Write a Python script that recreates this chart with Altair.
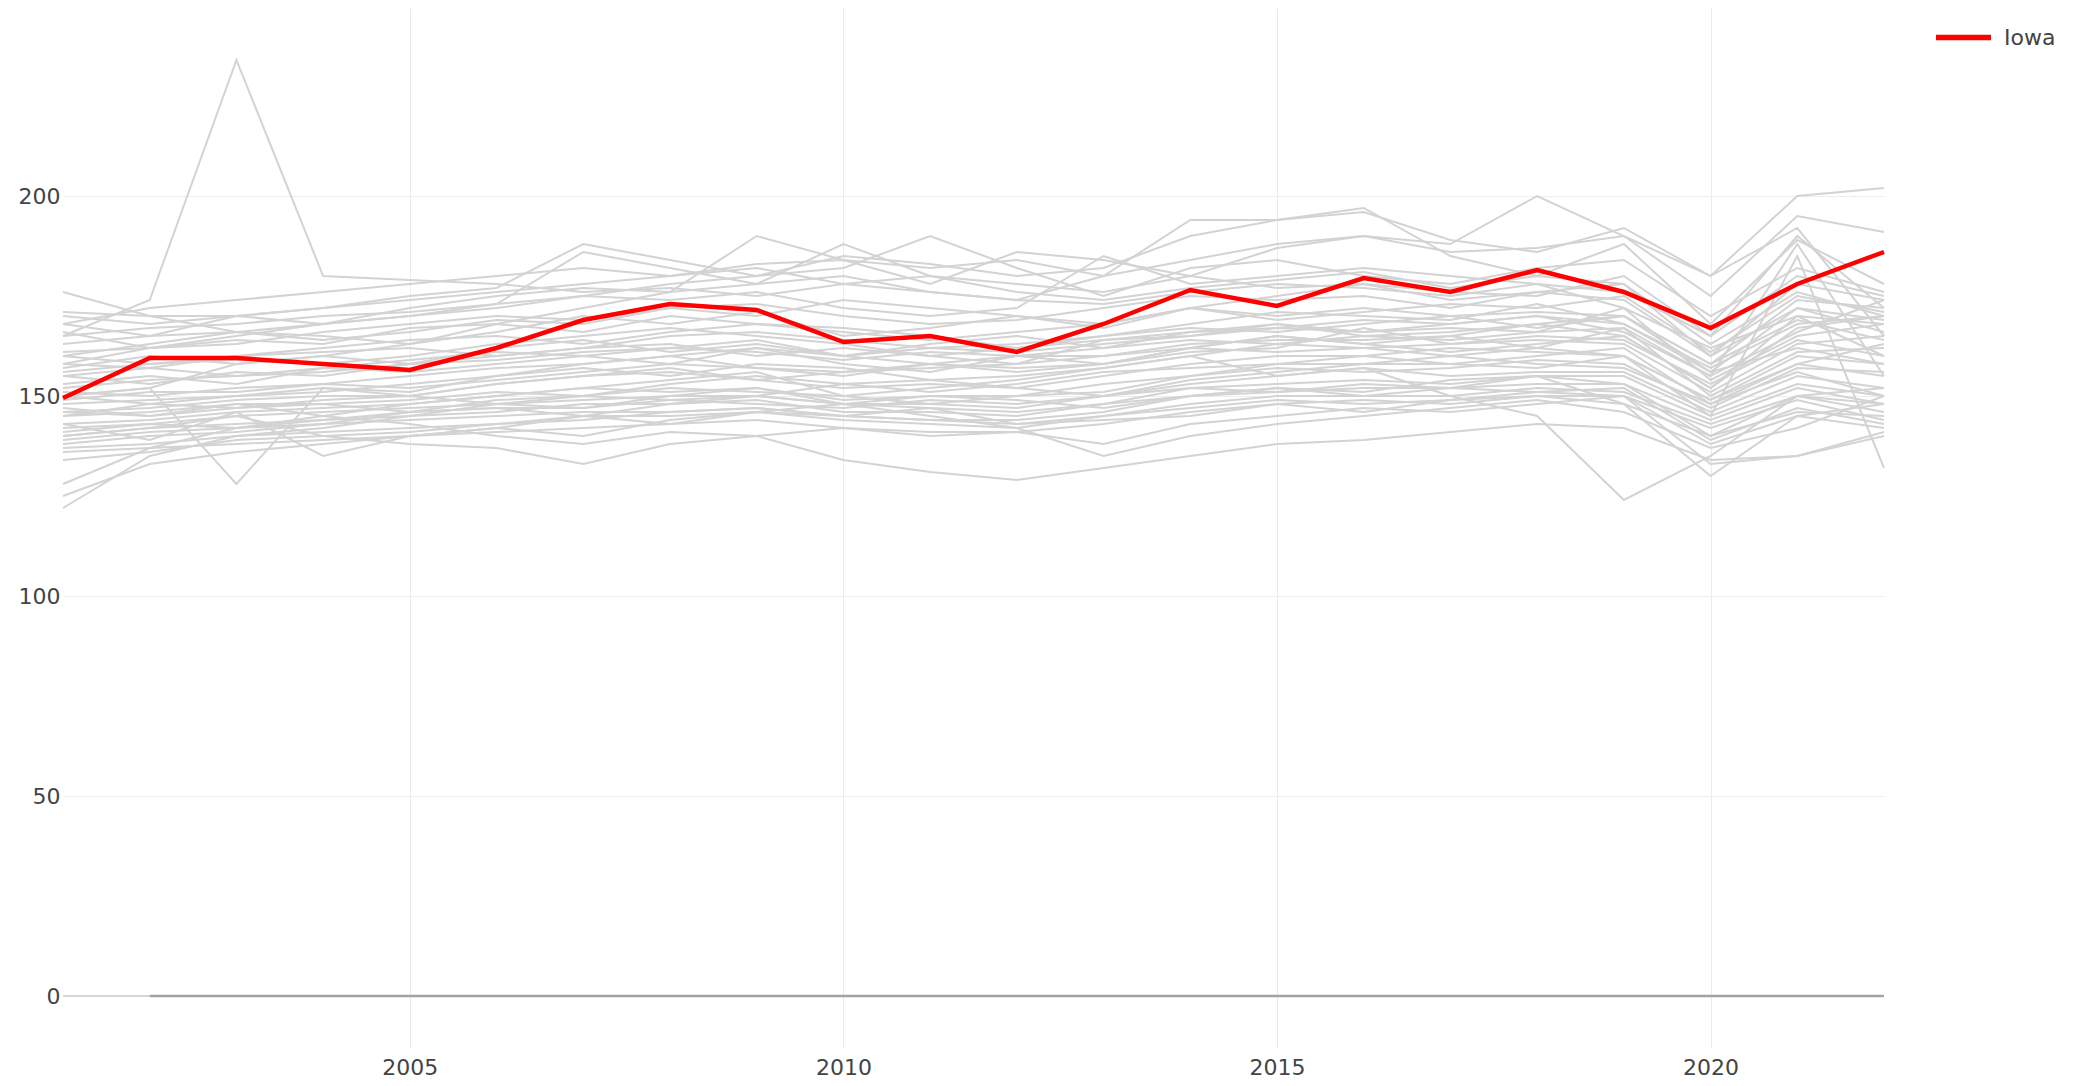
import altair as alt
import pandas as pd

years = list(range(2001, 2023))

iowa = [149.5, 159.5, 159.5, 158, 156.5, 162, 169, 173, 171.5, 163.5, 165, 161,
        168, 176.5, 172.5, 179.5, 176, 181.5, 176, 167, 178, 186]

gray_series = {
    "L1": [165, 174, 234, 180, 179, 178, 176, 177, 175, 178, 176, 174, 173, 176, 178, 177, 175, 178, 172, 162, 170, 168],
    "L2": [160, 163, 166, 168, 170, 172, 175, 178, 180, 185, 183, 180, 182, 190, 194, 196, 189, 186, 192, 180, 200, 202],
    "L3": [170, 168, 170, 172, 174, 176, 178, 180, 182, 178, 180, 178, 176, 180, 187, 190, 188, 200, 190, 175, 195, 191],
    "L4": [158, 162, 165, 168, 170, 173, 186, 182, 178, 180, 176, 174, 180, 194, 194, 197, 185, 180, 188, 168, 189, 178],
    "L5": [168, 165, 170, 172, 175, 177, 188, 184, 180, 182, 190, 182, 175, 182, 184, 180, 178, 182, 184, 170, 182, 176],
    "L6": [150, 152, 158, 160, 163, 168, 172, 176, 190, 184, 178, 186, 184, 180, 177, 178, 176, 175, 180, 165, 190, 172],
    "L7": [176, 170, 166, 164, 166, 169, 168, 172, 170, 174, 172, 170, 168, 172, 175, 178, 174, 176, 178, 160, 178, 174],
    "L8": [171, 170, 170, 168, 172, 175, 177, 176, 178, 188, 180, 176, 174, 177, 179, 181, 177, 180, 178, 163, 176, 170],
    "L9": [166, 162, 163, 166, 168, 170, 169, 172, 173, 170, 168, 169, 172, 175, 174, 175, 172, 176, 174, 160, 172, 166],
    "L10": [163, 165, 166, 165, 163, 166, 170, 168, 171, 165, 167, 170, 167, 172, 170, 172, 170, 171, 170, 158, 174, 172],
    "L11": [160, 158, 160, 162, 164, 165, 163, 166, 168, 167, 165, 162, 165, 168, 171, 170, 169, 173, 168, 157, 168, 170],
    "L12": [157, 160, 158, 160, 158, 162, 164, 161, 163, 160, 163, 165, 162, 166, 167, 169, 168, 170, 166, 155, 166, 174],
    "L13": [155, 153, 156, 155, 158, 160, 162, 163, 160, 162, 160, 158, 164, 165, 168, 166, 167, 166, 172, 154, 165, 168],
    "L14": [153, 155, 153, 157, 156, 158, 160, 158, 162, 158, 156, 160, 160, 163, 164, 164, 165, 168, 165, 152, 170, 160],
    "L15": [151, 150, 152, 153, 155, 157, 158, 160, 157, 155, 158, 157, 158, 161, 162, 167, 163, 164, 163, 151, 163, 165],
    "L16": [148, 149, 150, 151, 153, 155, 157, 155, 158, 157, 154, 155, 157, 160, 163, 162, 160, 162, 167, 150, 161, 162],
    "L17": [146, 147, 149, 150, 150, 153, 155, 156, 154, 152, 153, 152, 155, 158, 160, 160, 162, 161, 160, 149, 160, 158],
    "L18": [145, 146, 148, 148, 149, 151, 150, 153, 155, 153, 151, 153, 156, 157, 158, 158, 158, 160, 162, 148, 158, 163],
    "L19": [143, 144, 146, 147, 148, 150, 152, 151, 152, 149, 150, 150, 151, 155, 157, 156, 157, 159, 158, 147, 157, 156],
    "L20": [141, 143, 145, 146, 147, 148, 149, 150, 150, 148, 148, 147, 150, 153, 155, 157, 155, 156, 156, 146, 155, 152],
    "L21": [140, 142, 143, 144, 145, 146, 148, 148, 149, 146, 146, 145, 148, 152, 153, 154, 153, 155, 155, 145, 153, 150],
    "L22": [138, 140, 141, 143, 144, 145, 146, 146, 147, 145, 144, 144, 146, 150, 151, 152, 152, 153, 153, 144, 152, 148],
    "L23": [137, 138, 140, 141, 142, 143, 145, 145, 146, 144, 143, 142, 145, 148, 150, 150, 150, 152, 151, 143, 150, 146],
    "L24": [136, 137, 138, 139, 140, 141, 142, 143, 144, 142, 141, 141, 143, 146, 148, 149, 148, 150, 150, 142, 149, 144],
    "L25": [122, 135, 140, 142, 145, 148, 150, 152, 151, 150, 148, 150, 153, 155, 158, 160, 158, 157, 160, 149, 158, 155],
    "L26": [128, 137, 142, 143, 146, 147, 145, 148, 150, 153, 154, 152, 150, 154, 156, 158, 160, 158, 157, 148, 156, 150],
    "L27": [125, 133, 136, 138, 140, 142, 140, 144, 146, 148, 150, 149, 147, 150, 152, 151, 154, 155, 153, 140, 150, 152],
    "L28": [150, 152, 128, 152, 150, 153, 155, 157, 154, 156, 158, 160, 158, 162, 165, 163, 161, 163, 165, 152, 167, 170],
    "L29": [147, 145, 148, 145, 143, 140, 138, 141, 140, 134, 131, 129, 132, 135, 138, 139, 141, 143, 142, 134, 135, 141],
    "L30": [142, 143, 142, 145, 148, 150, 152, 154, 156, 150, 152, 154, 157, 160, 155, 157, 150, 145, 124, 135, 150, 148],
    "L31": [145, 148, 150, 152, 151, 155, 158, 160, 162, 160, 158, 156, 158, 162, 165, 163, 165, 162, 160, 145, 185, 132],
    "L32": [140, 142, 145, 140, 138, 137, 133, 138, 140, 142, 140, 141, 138, 143, 145, 147, 146, 148, 150, 138, 145, 148],
    "L33": [143, 139, 146, 135, 140, 142, 145, 143, 146, 145, 147, 143, 144, 145, 148, 146, 149, 150, 148, 140, 146, 145],
    "L34": [150, 148, 147, 149, 150, 148, 147, 150, 152, 148, 145, 142, 135, 140, 143, 145, 147, 149, 146, 137, 142, 150],
    "L35": [146, 145, 147, 148, 146, 149, 150, 149, 148, 147, 149, 148, 150, 152, 151, 153, 152, 155, 148, 130, 145, 142],
    "L36": [161, 162, 164, 163, 167, 168, 166, 170, 168, 166, 164, 166, 168, 172, 169, 171, 173, 172, 175, 161, 175, 171],
    "L37": [158, 157, 160, 161, 162, 160, 162, 165, 166, 164, 162, 163, 165, 167, 166, 168, 170, 167, 170, 156, 172, 169],
    "L38": [165, 167, 168, 170, 171, 173, 175, 174, 176, 172, 170, 172, 185, 178, 180, 182, 180, 178, 176, 165, 180, 175],
    "L39": [168, 172, 174, 176, 178, 180, 182, 180, 183, 184, 182, 184, 180, 184, 188, 190, 186, 187, 190, 180, 192, 165],
    "L40": [152, 154, 155, 156, 158, 159, 161, 162, 164, 160, 162, 161, 163, 165, 167, 166, 168, 170, 168, 156, 162, 158],
    "L41": [149, 151, 151, 153, 152, 154, 156, 158, 157, 156, 157, 158, 160, 162, 161, 162, 163, 165, 164, 153, 164, 160],
    "L42": [139, 141, 142, 144, 146, 147, 147, 149, 150, 148, 147, 146, 148, 150, 152, 150, 152, 151, 150, 133, 135, 140],
    "L43": [134, 136, 139, 140, 141, 143, 144, 146, 147, 145, 144, 143, 145, 147, 149, 148, 149, 151, 152, 139, 147, 143],
    "L44": [156, 158, 159, 158, 160, 163, 165, 167, 165, 163, 160, 162, 164, 166, 168, 165, 166, 168, 170, 158, 169, 164],
    "L45": [155, 157, 155, 157, 159, 161, 160, 162, 161, 159, 161, 160, 162, 164, 163, 165, 164, 166, 167, 155, 188, 155],
}

zero_years = list(range(2002, 2023))
zero_values = [0] * len(zero_years)

x_ticks = [2005, 2010, 2015, 2020]
y_ticks = [0, 50, 100, 150, 200]

rows = []
for name, vals in gray_series.items():
    for yr, v in zip(years, vals):
        rows.append({"state": name, "year": yr, "value": v})
gray_df = pd.DataFrame(rows)
zero_df = pd.DataFrame({"state": "Z", "year": zero_years, "value": zero_values})
iowa_df = pd.DataFrame({"state": "Iowa", "year": years, "value": iowa})

FONT = "DejaVu Sans"

x_enc = alt.X("year:Q",
              scale=alt.Scale(domain=[2001, 2022], nice=False, zero=False),
              axis=alt.Axis(values=x_ticks, format="d", title=None, domain=False,
                            ticks=False, labelPadding=9, labelFontSize=22,
                            labelColor="#444444", labelFont=FONT,
                            grid=True, gridColor="#EBEBEB", gridWidth=1))
y_enc = alt.Y("value:Q",
              scale=alt.Scale(domain=[-13, 247], nice=False, zero=False),
              axis=alt.Axis(values=y_ticks, title=None, domain=False, ticks=False,
                            labelPadding=3, labelFontSize=22, labelColor="#444444",
                            labelFont=FONT, grid=True, gridColor="#EEEEEE",
                            gridWidth=1))

zero_rule = alt.Chart(pd.DataFrame({"v": [0]})).mark_rule(
    color="#D6D6D6", strokeWidth=2).encode(
    y=alt.Y("v:Q", scale=alt.Scale(domain=[-13, 247], nice=False)))

gray = alt.Chart(gray_df).mark_line(color="#D3D3D3", strokeWidth=2).encode(
    x=x_enc, y=y_enc, detail="state:N")

zero_line = alt.Chart(zero_df).mark_line(color="#A3A3A3", strokeWidth=2.5).encode(
    x=x_enc, y=y_enc, detail="state:N")

iowa_line = alt.Chart(iowa_df).mark_line(strokeWidth=4.5).encode(
    x=x_enc, y=y_enc,
    color=alt.Color("state:N",
                    scale=alt.Scale(domain=["Iowa"], range=["#FF0000"]),
                    legend=alt.Legend(title=None, orient="none", legendX=1870,
                                      legendY=-1, symbolType="stroke",
                                      symbolSize=3025, symbolStrokeWidth=5.5,
                                      labelFontSize=22, labelFont=FONT,
                                      labelColor="#444444", labelOffset=10,
                                      padding=0)))

chart = alt.layer(zero_rule, gray, zero_line, iowa_line).properties(
    width=1821, height=1040,
    background="white",
    padding={"left": 55, "top": 0, "right": 180, "bottom": 30},
    autosize=alt.AutoSizeParams(type="none"),
).configure_view(stroke=None, strokeWidth=0)

chart.save("out.html", embed_options={"renderer": "svg", "actions": False})
